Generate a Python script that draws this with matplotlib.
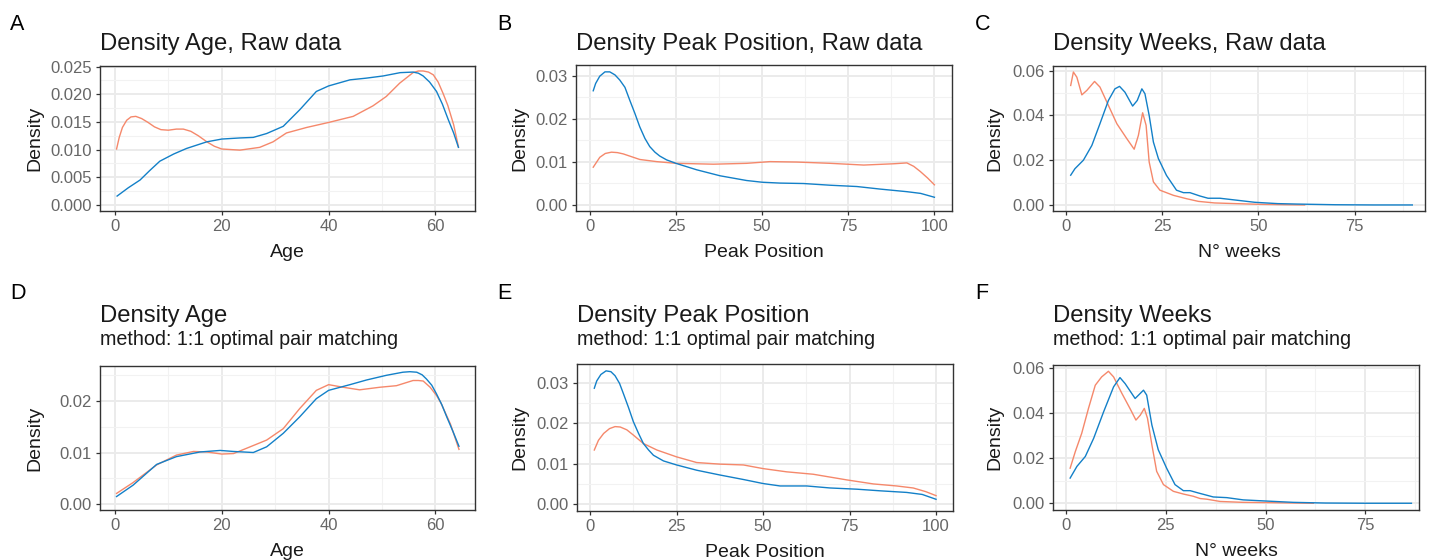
"""Six density panels: raw vs matched (Age, Peak Position, Weeks)."""
import matplotlib
matplotlib.use("Agg")
import matplotlib.pyplot as plt
import matplotlib.ticker as ticker

plt.rcParams.update({
    "font.family": ["Liberation Sans", "DejaVu Sans"],
    "axes.linewidth": 1.0,
})

BLUE = "#1380C8"
ORANGE = "#F5886B"
W, H = 1435, 560

# ── data ───────────────────────────────────────────────────────────────────
# A: Age, raw
age_raw_blue_x = [0.4, 2.5, 4.7, 6.5, 8.4, 11, 13.4, 17.2, 20, 23.4, 25.9, 28.4,
                  31.5, 34.6, 37.7, 40, 44, 47, 50.2, 53.4, 55.8, 56.8, 57.7, 58.9,
                  60.2, 61.3, 62.4, 63.4, 64.3]
age_raw_blue_y = [0.0016, 0.0031, 0.0045, 0.0062, 0.0079, 0.0092, 0.0102, 0.0114,
                  0.0119, 0.0121, 0.0122, 0.0129, 0.0142, 0.0172, 0.0205, 0.0215,
                  0.0226, 0.0229, 0.0233, 0.0239, 0.0240, 0.0238, 0.0233, 0.0222,
                  0.0205, 0.0182, 0.0154, 0.0130, 0.0104]
age_raw_orange_x = [0.3, 0.8, 1.4, 2.2, 3.0, 3.9, 5.0, 6.2, 7.4, 8.6, 10, 11.5,
                    12.8, 14.2, 15.6, 17.2, 18.6, 20, 23.4, 27.1, 29.6, 32.1, 35.9,
                    40, 44.6, 48.3, 50.8, 53.3, 55.8, 56.8, 57.7, 58.7, 59.6, 60.5,
                    61.4, 62.3, 63.4, 64.3]
age_raw_orange_y = [0.0101, 0.0122, 0.0140, 0.0153, 0.0159, 0.0160, 0.0156, 0.0149,
                    0.0141, 0.0136, 0.0135, 0.0137, 0.0137, 0.0133, 0.0125, 0.0114,
                    0.0106, 0.0101, 0.0099, 0.0104, 0.0114, 0.0130, 0.0140, 0.0149,
                    0.0160, 0.0179, 0.0196, 0.0220, 0.0239, 0.0242, 0.0242, 0.0240,
                    0.0235, 0.0222, 0.0202, 0.0180, 0.0145, 0.0105]

# B: Peak position, raw
peak_raw_blue_x = [1.0, 1.7, 2.9, 4.4, 5.8, 7.3, 8.7, 10.2, 11.6, 13.1, 14.5, 16,
                   17.4, 18.9, 20.3, 22.3, 25, 31, 37.8, 45.5, 50, 55.2, 62, 69.8,
                   77.5, 84.3, 92, 96, 100]
peak_raw_blue_y = [0.0265, 0.0282, 0.0299, 0.0309, 0.0309, 0.0302, 0.0290, 0.0273,
                   0.0243, 0.0212, 0.0181, 0.0154, 0.0135, 0.0122, 0.0113, 0.0104,
                   0.0096, 0.0081, 0.0067, 0.0056, 0.0052, 0.0050, 0.0049, 0.0045,
                   0.0042, 0.0036, 0.0030, 0.0026, 0.0017]
peak_raw_orange_x = [1, 2.9, 4.5, 6.3, 8, 9.7, 14.5, 19.4, 25, 35.9, 45.5, 52.3, 60,
                     69.8, 79.5, 88.2, 92, 94, 95.9, 98, 100]
peak_raw_orange_y = [0.0087, 0.0110, 0.0119, 0.0122, 0.0121, 0.0118, 0.0105, 0.0100,
                     0.0096, 0.0094, 0.0096, 0.0100, 0.0099, 0.0096, 0.0092, 0.0095,
                     0.0097, 0.0089, 0.0077, 0.0062, 0.0046]

# C: Weeks, raw
weeks_raw_blue_x = [1.2, 2.3, 4.5, 6.7, 8.8, 11.0, 12.7, 13.9, 15.3, 17.3, 18.5, 19.7,
                    20.5, 21.6, 22.7, 24.0, 26.1, 28.7, 30.5, 32.2, 34.8, 36.9, 40,
                    44, 49, 55, 60, 70, 80, 90]
weeks_raw_blue_y = [0.0133, 0.0162, 0.0200, 0.0266, 0.0363, 0.0467, 0.0519, 0.0530,
                    0.0504, 0.0442, 0.0467, 0.0519, 0.0497, 0.0400, 0.0281, 0.0207,
                    0.0132, 0.0066, 0.0055, 0.0055, 0.0040, 0.0030, 0.0030, 0.0022,
                    0.0012, 0.0006, 0.0004, 0.0001, 0.0, 0.0]
weeks_raw_orange_x = [1.2, 1.9, 2.8, 4.1, 5.4, 7.4, 8.8, 11.0, 13.2, 15.8, 17.7, 18.8,
                      19.9, 20.8, 21.6, 22.7, 24.4, 27.9, 31.3, 34.4, 38.6, 44, 50,
                      57, 62]
weeks_raw_orange_y = [0.0534, 0.0594, 0.0571, 0.0492, 0.0512, 0.0552, 0.0527, 0.0445,
                      0.0363, 0.0296, 0.0249, 0.0311, 0.0412, 0.0356, 0.0192, 0.0103,
                      0.0066, 0.0043, 0.0028, 0.0016, 0.0009, 0.0006, 0.0003, 0.0001,
                      0.0]

# D: Age, matched
age_m_blue_x = [0.3, 3.4, 7.8, 11.5, 15.9, 19.7, 22.2, 25.9, 28.4, 31.5, 34.6, 37.7,
                40, 44, 47.1, 50.8, 53.9, 55.2, 56.5, 57.5, 58.3, 59.3, 60.2, 61.2,
                62.1, 63.3, 64.4]
age_m_blue_y = [0.0015, 0.0037, 0.0077, 0.0092, 0.0101, 0.0104, 0.0102, 0.0100,
                0.0111, 0.0137, 0.0169, 0.0204, 0.0220, 0.0231, 0.0240, 0.0249,
                0.0255, 0.0256, 0.0255, 0.0250, 0.0242, 0.0230, 0.0213, 0.0192,
                0.0169, 0.0140, 0.0112]
age_m_orange_x = [0.3, 3.4, 7.8, 11.5, 14.7, 17.2, 20, 22.2, 24.6, 28.4, 31.5, 34.6,
                  37.7, 40, 42.7, 45.8, 49.6, 52.7, 55.8, 56.8, 57.7, 59.0, 60.2,
                  61.0, 62.8, 64.4]
age_m_orange_y = [0.0021, 0.0042, 0.0076, 0.0095, 0.0102, 0.0101, 0.0097, 0.0098,
                  0.0108, 0.0124, 0.0146, 0.0185, 0.0220, 0.0231, 0.0226, 0.0221,
                  0.0226, 0.0229, 0.0239, 0.0239, 0.0238, 0.0226, 0.0210, 0.0196,
                  0.0155, 0.0106]

# E: Peak position, matched
peak_m_blue_x = [1.2, 1.9, 3.1, 4.6, 6.0, 7.2, 8.5, 9.6, 11.1, 12.5, 14, 15.4, 16.9,
                 18.3, 21.2, 25, 30.8, 37.6, 44.3, 50, 54.9, 62.6, 69.4, 77.1, 83.8,
                 91.5, 96, 100]
peak_m_blue_y = [0.0287, 0.0305, 0.0321, 0.0330, 0.0328, 0.0318, 0.0299, 0.0274,
                 0.0239, 0.0204, 0.0175, 0.0150, 0.0134, 0.0121, 0.0107, 0.0097,
                 0.0084, 0.0072, 0.0061, 0.0051, 0.0045, 0.0045, 0.0040, 0.0037,
                 0.0033, 0.0029, 0.0024, 0.0012]
peak_m_orange_x = [1.2, 2.4, 3.9, 5.6, 7.2, 8.7, 10.6, 12.5, 15.4, 19.3, 25, 30.8,
                   37.6, 44.3, 50, 56.8, 64.5, 74.2, 81.9, 88.6, 93.4, 97, 100]
peak_m_orange_y = [0.0134, 0.0158, 0.0175, 0.0187, 0.0192, 0.0191, 0.0184, 0.0171,
                   0.0150, 0.0134, 0.0117, 0.0103, 0.0099, 0.0097, 0.0088, 0.0080,
                   0.0074, 0.0060, 0.0050, 0.0045, 0.0040, 0.0031, 0.0021]

# F: Weeks, matched
weeks_m_blue_x = [1.0, 2.7, 4.8, 6.9, 9.4, 11.9, 13.5, 14.8, 17.3, 19.4, 20.2, 21.5,
                  23.1, 25.2, 27.3, 29.4, 31.1, 33.1, 36.9, 40.3, 44.4, 50, 57, 65,
                  75, 86.6]
weeks_m_blue_y = [0.0112, 0.0164, 0.0208, 0.0289, 0.0407, 0.0518, 0.0559, 0.0532,
                  0.0466, 0.0503, 0.0481, 0.0348, 0.0238, 0.0156, 0.0083, 0.0056,
                  0.0056, 0.0046, 0.0028, 0.0025, 0.0015, 0.0010, 0.0004, 0.0001,
                  0.0, 0.0]
weeks_m_orange_x = [1.0, 2.3, 3.9, 5.6, 7.3, 8.9, 10.6, 11.9, 14.0, 16.0, 17.5, 18.6,
                    19.6, 20.4, 21.5, 22.7, 24.4, 26.9, 29.4, 31.9, 33.6, 35.3, 38.6,
                    44.4, 50, 57, 62]
weeks_m_orange_y = [0.0156, 0.0230, 0.0311, 0.0422, 0.0525, 0.0562, 0.0587, 0.0562,
                    0.0488, 0.0422, 0.0370, 0.0392, 0.0422, 0.0378, 0.0260, 0.0142,
                    0.0083, 0.0053, 0.0041, 0.0031, 0.0021, 0.0018, 0.0008, 0.0004,
                    0.0003, 0.0001, 0.0]

# ── layout (pixel boxes: left, top, right, bottom) ─────────────────────────
panels = [
    dict(box=(100, 66, 475, 211), letter="A", title="Density Age, Raw data", sub=None,
         xl="Age", x=(age_raw_blue_x, age_raw_orange_x), y=(age_raw_blue_y, age_raw_orange_y),
         xlim=(-2.8, 67.4), ylim=(-0.0011, 0.0251), xmaj=20, ymaj=0.005, yfmt="%.3f"),
    dict(box=(576, 65, 952, 211), letter="B", title="Density Peak Position, Raw data", sub=None,
         xl="Peak Position", x=(peak_raw_blue_x, peak_raw_orange_x),
         y=(peak_raw_blue_y, peak_raw_orange_y),
         xlim=(-4.0, 105.1), ylim=(-0.0015, 0.0325), xmaj=25, ymaj=0.01, yfmt="%.2f"),
    dict(box=(1053, 66, 1425, 211), letter="C", title="Density Weeks, Raw data", sub=None,
         xl="N° weeks", x=(weeks_raw_blue_x, weeks_raw_orange_x),
         y=(weeks_raw_blue_y, weeks_raw_orange_y),
         xlim=(-3.4, 93.3), ylim=(-0.0027, 0.0621), xmaj=25, ymaj=0.02, yfmt="%.2f"),
    dict(box=(100, 366, 475, 510), letter="D", title="Density Age",
         sub="method: 1:1 optimal pair matching",
         xl="Age", x=(age_m_blue_x, age_m_orange_x), y=(age_m_blue_y, age_m_orange_y),
         xlim=(-2.8, 67.4), ylim=(-0.0011, 0.0267), xmaj=20, ymaj=0.01, yfmt="%.2f"),
    dict(box=(577, 364, 953, 511), letter="E", title="Density Peak Position",
         sub="method: 1:1 optimal pair matching",
         xl="Peak Position", x=(peak_m_blue_x, peak_m_orange_x),
         y=(peak_m_blue_y, peak_m_orange_y),
         xlim=(-3.8, 104.9), ylim=(-0.0017, 0.0347), xmaj=25, ymaj=0.01, yfmt="%.2f"),
    dict(box=(1053, 365, 1419, 510), letter="F", title="Density Weeks",
         sub="method: 1:1 optimal pair matching",
         xl="N° weeks", x=(weeks_m_blue_x, weeks_m_orange_x),
         y=(weeks_m_blue_y, weeks_m_orange_y),
         xlim=(-3.3, 88.5), ylim=(-0.003, 0.0615), xmaj=25, ymaj=0.02, yfmt="%.2f"),
]

fig = plt.figure(figsize=(W / 100, H / 100), dpi=100)

for p in panels:
    l, t, r, b = p["box"]
    ax = fig.add_axes([l / W, 1 - b / H, (r - l) / W, (b - t) / H])

    # orange first, blue on top
    ax.plot(p["x"][1], p["y"][1], color=ORANGE, lw=1.0, zorder=3)
    ax.plot(p["x"][0], p["y"][0], color=BLUE, lw=1.0, zorder=4)

    ax.set_xlim(*p["xlim"])
    ax.set_ylim(*p["ylim"])
    ax.xaxis.set_major_locator(ticker.MultipleLocator(p["xmaj"]))
    ax.xaxis.set_minor_locator(ticker.MultipleLocator(p["xmaj"] / 2))
    ax.yaxis.set_major_locator(ticker.MultipleLocator(p["ymaj"]))
    ax.yaxis.set_minor_locator(ticker.MultipleLocator(p["ymaj"] / 2))
    ax.yaxis.set_major_formatter(ticker.FormatStrFormatter(p["yfmt"]))
    ax.xaxis.set_major_formatter(ticker.FormatStrFormatter("%d"))

    ax.grid(which="major", color="#EBEBEB", lw=1.4, zorder=0)
    ax.grid(which="minor", color="#F2F2F2", lw=0.8, zorder=0)
    ax.set_axisbelow(True)
    ax.tick_params(which="major", length=3, width=0.9, color="#333333",
                   labelsize=12, labelcolor="#666666", pad=3)
    ax.tick_params(which="minor", length=0)
    for s in ax.spines.values():
        s.set_color("#333333")

    # axis labels
    fig.text((l + r) / 2 / W, 1 - (b + 46) / H, p["xl"], ha="center", va="baseline",
             fontsize=14, color="#1A1A1A")
    ylx = {100: 35, 576: 520, 577: 520, 1053: 995}[l]
    fig.text(ylx / W, 1 - (t + b) / 2 / H, "Density", rotation=90, ha="center",
             va="center", fontsize=14, color="#1A1A1A")

    # titles
    if p["sub"] is None:
        fig.text(l / W, 1 - 50 / H, p["title"], ha="left", va="baseline",
                 fontsize=17.2, color="#1A1A1A")
    else:
        fig.text(l / W, 1 - 322 / H, p["title"], ha="left", va="baseline",
                 fontsize=17.2, color="#1A1A1A")
        fig.text(l / W, 1 - 345 / H, p["sub"], ha="left", va="baseline",
                 fontsize=14.2, color="#1A1A1A")

    # panel letters
    lx = {100: 10, 576: 497, 577: 497, 1053: 975}[l]
    ly = 30 if t < 200 else 299
    fig.text(lx / W, 1 - ly / H, p["letter"], ha="left", va="baseline",
             fontsize=15.5, color="black")

fig.savefig("out.png", dpi=100)
